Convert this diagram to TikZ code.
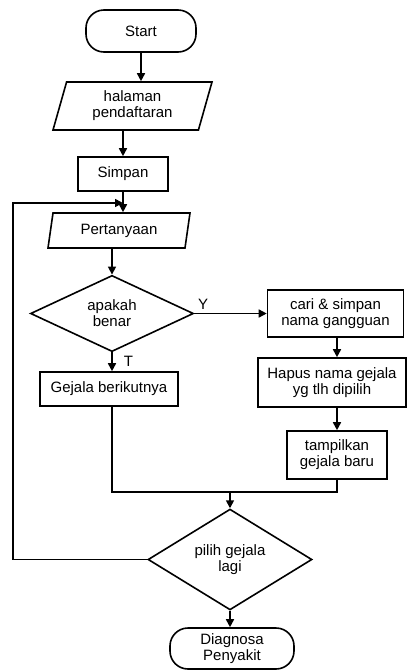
\documentclass[tikz,border=0pt]{standalone}
\usepackage{fontspec}
\setmainfont{Liberation Sans}
\usetikzlibrary{shapes.geometric,arrows.meta}

\begin{document}
\begin{tikzpicture}[x=1pt, y=-1pt, line width=1.6pt,
    every node/.style={font=\fontsize{15}{16}\selectfont, align=center, inner sep=1pt},
    term/.style={draw, rectangle, rounded corners=18pt, minimum height=42pt},
    box/.style={draw, rectangle},
    io/.style={draw, trapezium, trapezium stretches body},
    cond/.style={draw, diamond, inner sep=0pt},
    arr/.style={-{Triangle[length=8pt,width=8pt]}}]
    \useasboundingbox (0,0) rectangle (407,670);
    \node[term, minimum width=110pt] (start) at (141,31) {Start};
    \node[io, trapezium left angle=67, trapezium right angle=113, minimum width=159pt, minimum height=48pt] (halaman) at (132.5,106) {halaman\\pendaftaran};
    \node[box, minimum width=90pt, minimum height=34pt] (simpan) at (123,174) {Simpan};
    \node[io, trapezium left angle=72, trapezium right angle=108, minimum width=142pt, minimum height=35pt] (pert) at (119,230.5) {Pertanyaan};
    \node[cond, minimum width=163pt, minimum height=73pt] (apakah) at (112,313.5) {apakah\\benar};
    \node[box, minimum width=136pt, minimum height=47pt] (cari) at (335.5,313.5) {cari \& simpan\\nama gangguan};
    \node[box, minimum width=148pt, minimum height=49pt] (hapus) at (332,382.5) {Hapus nama gejala\\yg tlh dipilih};
    \node[box, minimum width=100pt, minimum height=48pt] (tampil) at (337,455) {tampilkan\\gejala baru};
    \node[box, minimum width=138pt, minimum height=34pt] (gejala) at (109,389) {Gejala berikutnya};
    \node[cond, minimum width=164pt, minimum height=93pt] (pilih) at (230,559.5) {pilih gejala\\lagi};
    \node[term, minimum width=124pt, minimum height=41pt] (diag) at (232,648.5) {Diagnosa\\Penyakit};
    \coordinate (loop) at (13,203);
    \coordinate (masuk) at (123,203);
    \coordinate (gabung) at (230,492);

    \draw[arr] (start.south) -- (start.south |- halaman.north);
    \draw[arr] (simpan.north |- halaman.south) -- (simpan.north);
    \draw[arr] (simpan.south) -- (simpan.south |- pert.north);
    \draw[arr] (apakah.north |- pert.south) -- (apakah.north);
    \draw[arr] (apakah.east) -- (cari.west) node[pos=0, above right=2pt] {Y};
    \draw[arr] (apakah.south) -- (apakah.south |- gejala.north) node[midway, right=10pt] {T};
    \draw[arr] (337,0 |- cari.south) -- (337,0 |- hapus.north);
    \draw[arr] (337,0 |- hapus.south) -- (tampil.north);
    \draw (apakah.south |- gejala.south) |- (gabung) -| (tampil.south);
    \draw[arr] (gabung) -- (pilih.north);
    \draw[arr] (pilih.south) -- (pilih.south |- diag.north);
    \draw[arr] (pilih.west) -| (loop) -- (masuk);
\end{tikzpicture}
\end{document}
